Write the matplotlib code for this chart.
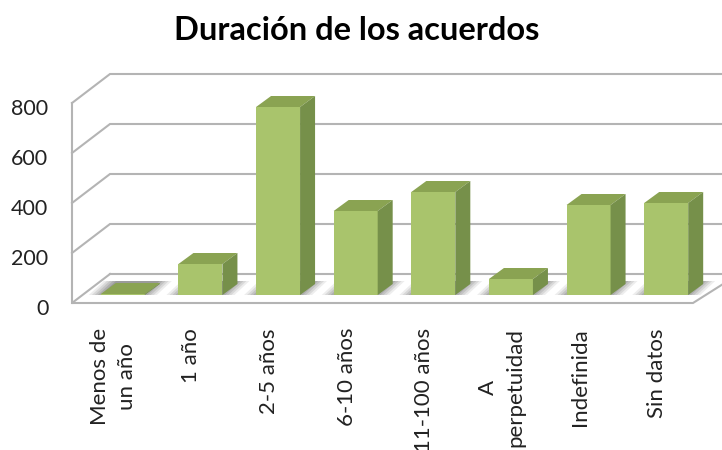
import matplotlib
matplotlib.use("Agg")
import matplotlib.pyplot as plt
from matplotlib.patches import Polygon
from matplotlib.transforms import ScaledTranslation

plt.rcParams["font.family"] = ["Lato", "DejaVu Sans"]

categories = ["Menos de\nun año", "1 año", "2-5 años", "6-10 años", "11-100 años",
              "A\nperpetuidad", "Indefinida", "Sin datos"]
values = [4, 124, 752, 336, 412, 64, 360, 368]
y_ticks = [0, 200, 400, 600, 800]

GRID = "#b4b4b4"
FRONT = "#a9c46c"
TOP = "#8aa352"
SIDE = "#76904a"

fig = plt.figure(figsize=(7.22, 4.5), dpi=100)
ax = fig.add_axes([72 / 722, (450 - 303) / 450, 621 / 722, 200 / 450])
ax.set_xlim(-0.5, 7.5)
ax.set_ylim(0, 800)

# pixel sizes in data units, for the fake 3d depth
px = 8 / 621
py = 800 / 200
wall_dx, wall_dy = 38 * px, 29 * py
bar_dx, bar_dy = 15 * px, 11 * py
shift_x, shift_y = 12 * px, 8 * py
bar_w = 44 * px
x0, x1 = -0.5, 7.5


def poly(points, **kw):
    ax.add_patch(Polygon(points, closed=True, clip_on=False, **kw))


# --- walls and floor ---
for t in y_ticks[1:]:
    ax.plot([x0, x0 + wall_dx, x1 + wall_dx], [t, t + wall_dy, t + wall_dy],
            color=GRID, lw=1.5, clip_on=False, zorder=1, solid_joinstyle="miter")
ax.plot([x0 + wall_dx, x1 + wall_dx], [wall_dy, wall_dy],
        color=GRID, lw=1.5, clip_on=False, zorder=1)
ax.plot([x0, x0], [0, 800], color=GRID, lw=1.5, clip_on=False, zorder=2)

# white floor plate
poly([(x0 + 6 * px, 0), (x1, 0), (x1 + wall_dx, 22 * py), (x0 + 38 * px, 22 * py)],
     facecolor="white", edgecolor="none", zorder=2)
ax.plot([x0 + wall_dx, x0, x1, x1 + wall_dx], [wall_dy, 0, 0, 24 * py], color=GRID, lw=1.5,
        clip_on=False, zorder=3, solid_joinstyle="miter")

# shadows on the floor
for i in range(len(values)):
    left = i + shift_x - bar_w / 2
    right = left + bar_w
    for grow, alpha in [(12, 0.12), (9, 0.16), (6, 0.2), (3, 0.25), (0, 0.3)]:
        g = grow * px
        poly([(left - g, shift_y), (right + g, shift_y),
              (right + g + bar_dx, shift_y + bar_dy + 3 * py),
              (left - g + bar_dx, shift_y + bar_dy + 3 * py)],
             facecolor="#707070", edgecolor="none", alpha=alpha, zorder=3)

# --- bars ---
xs = list(range(len(values)))
ax.bar([x + shift_x for x in xs], values, width=bar_w, bottom=shift_y,
       color=FRONT, zorder=5, clip_on=False)
for x, v in zip(xs, values):
    left = x + shift_x - bar_w / 2
    right = left + bar_w
    top = v + shift_y
    poly([(left, top), (right, top), (right + bar_dx, top + bar_dy), (left + bar_dx, top + bar_dy)],
         facecolor=TOP, edgecolor="none", zorder=6)
    poly([(right, shift_y), (right + bar_dx, shift_y + bar_dy),
          (right + bar_dx, top + bar_dy), (right, top)],
         facecolor=SIDE, edgecolor="none", zorder=6)

for s in ax.spines.values():
    s.set_visible(False)
ax.patch.set_visible(False)
ax.set_yticks(y_ticks)
ax.set_xticks([x + 3 * px for x in xs])
ax.set_xticklabels(categories, rotation=90, fontsize=16, color="#222222",
                   linespacing=1.45, ha="center", va="top", multialignment="center")
ax.tick_params(axis="x", length=0, pad=18)
ax.tick_params(axis="y", length=0, pad=17, labelsize=15.5, labelcolor="#222222")
for lab in ax.get_yticklabels():
    lab.set_transform(lab.get_transform() + ScaledTranslation(0, -4 / 100, fig.dpi_scale_trans))

fig.text(357 / 722, 1 - 30 / 450, "Duración de los acuerdos", fontsize=23.5,
         fontweight="bold", color="black", ha="center", va="center")

fig.savefig("out.png", dpi=100)
